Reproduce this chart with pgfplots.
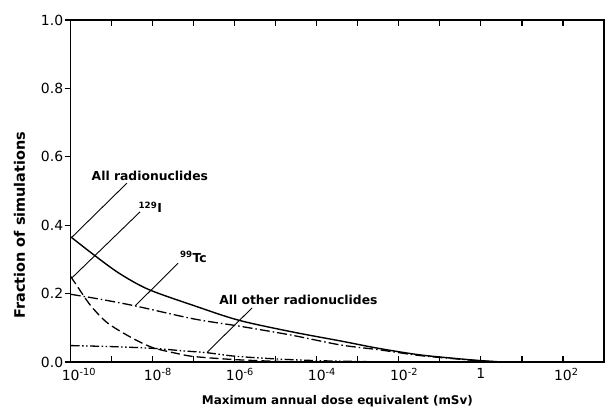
\documentclass[border=0pt]{standalone}
\usepackage{fontspec}
\setmainfont{DejaVu Sans}
\usepackage{pgfplots}
\pgfplotsset{compat=1.18}
\begin{document}
\begin{tikzpicture}
\useasboundingbox (-70.7bp,-49bp) rectangle (536.3bp,362bp);
\begin{axis}[
  at={(0,0)}, anchor=south west,
  scale only axis, width=533.3bp, height=342bp,
  xmin=-10, xmax=3, ymin=0, ymax=1,
  xtick={-10,-9,-8,-7,-6,-5,-4,-3,-2,-1,0,1,2},
  xticklabels={10\rlap{\textsuperscript{-10}},,10\rlap{\textsuperscript{-8}},,10\rlap{\textsuperscript{-6}},,10\rlap{\textsuperscript{-4}},,10\rlap{\textsuperscript{-2}},,1,,10\rlap{\textsuperscript{2}}},
  ytick={0,0.2,0.4,0.6,0.8,1},
  yticklabel style={xshift=2bp, /pgf/number format/.cd, fixed, fixed zerofill, precision=1, assume math mode=true},
  xticklabel style={yshift=-3bp},
  xtick align=inside, ytick align=outside,
  xtick pos=both, ytick pos=left,
  major tick length=6bp,
  tick style={line width=1.1bp, black},
  axis line style={line width=1.3bp},
  ticklabel style={font=\fontsize{14}{16}\selectfont},
  xlabel={\bfseries Maximum annual dose equivalent (mSv)},
  ylabel={\bfseries Fraction of simulations},
  xlabel style={font=\fontsize{12}{14}\selectfont, at={(axis description cs:0.5,0)}, anchor=center, yshift=-39bp},
  ylabel style={font=\fontsize{14.5}{16}\selectfont, at={(axis description cs:-0.096,0.40)}, anchor=center},
  clip=false,
]
% All radionuclides
\addplot[black, line width=1.4bp, smooth, tension=0.5] coordinates {
(-10,0.366) (-9.4,0.31) (-8.8,0.258) (-8.1,0.212) (-7.0,0.165) (-5.9,0.122) (-4.6,0.088) (-3.4,0.061) (-2.5,0.040) (-1.5,0.021) (-0.5,0.009) (0,0.004) (0.5,0)};
% 99Tc
\addplot[black, line width=1.3bp, dash pattern=on 10bp off 3bp on 1.5bp off 3bp, smooth, tension=0.5] coordinates {
(-10,0.198) (-9.3,0.184) (-8.43,0.164) (-7.0,0.126) (-5.9,0.105) (-4.64,0.079) (-3.43,0.050) (-2.5,0.036) (-1.5,0.019) (-0.5,0.008) (0,0.003) (0.5,0)};
% 129I
\addplot[black, line width=1.3bp, dash pattern=on 9bp off 4bp, smooth, tension=0.5] coordinates {
(-10,0.25) (-9.72,0.2) (-9.48,0.16) (-9.09,0.113) (-8.5,0.07) (-8.0,0.042) (-7.45,0.026) (-7.0,0.016) (-6,0.007) (-5,0.002) (-4.3,0)};
% All other radionuclides
\addplot[black, line width=1.3bp, dash pattern=on 9bp off 2.5bp on 1.5bp off 2.5bp on 1.5bp off 2.5bp, smooth, tension=0.5] coordinates {
(-10,0.048) (-9,0.045) (-8,0.040) (-7.3,0.033) (-6.67,0.027) (-6,0.017) (-5,0.009) (-4,0.004) (-3,0.0015) (-2.3,0)};
% annotations
\tikzset{lab/.style={font=\fontsize{12.4}{14}\selectfont\bfseries, inner sep=1pt}}
\node[lab] at (axis cs:-8.07,0.544) {All radionuclides};
\node[lab] at (axis cs:-8.06,0.452) {\textsuperscript{129}I};
\node[lab] at (axis cs:-7.01,0.307) {\textsuperscript{99}Tc};
\node[lab] at (axis cs:-4.45,0.181) {All other radionuclides};
\draw[line width=0.9bp] (axis cs:-8.63,0.523) -- (axis cs:-9.97,0.365);
\draw[line width=0.9bp] (axis cs:-8.31,0.439) -- (axis cs:-9.97,0.246);
\draw[line width=0.9bp] (axis cs:-7.38,0.289) -- (axis cs:-8.43,0.164);
\draw[line width=0.9bp] (axis cs:-5.58,0.158) -- (axis cs:-6.67,0.029);
\end{axis}
\end{tikzpicture}
\end{document}
